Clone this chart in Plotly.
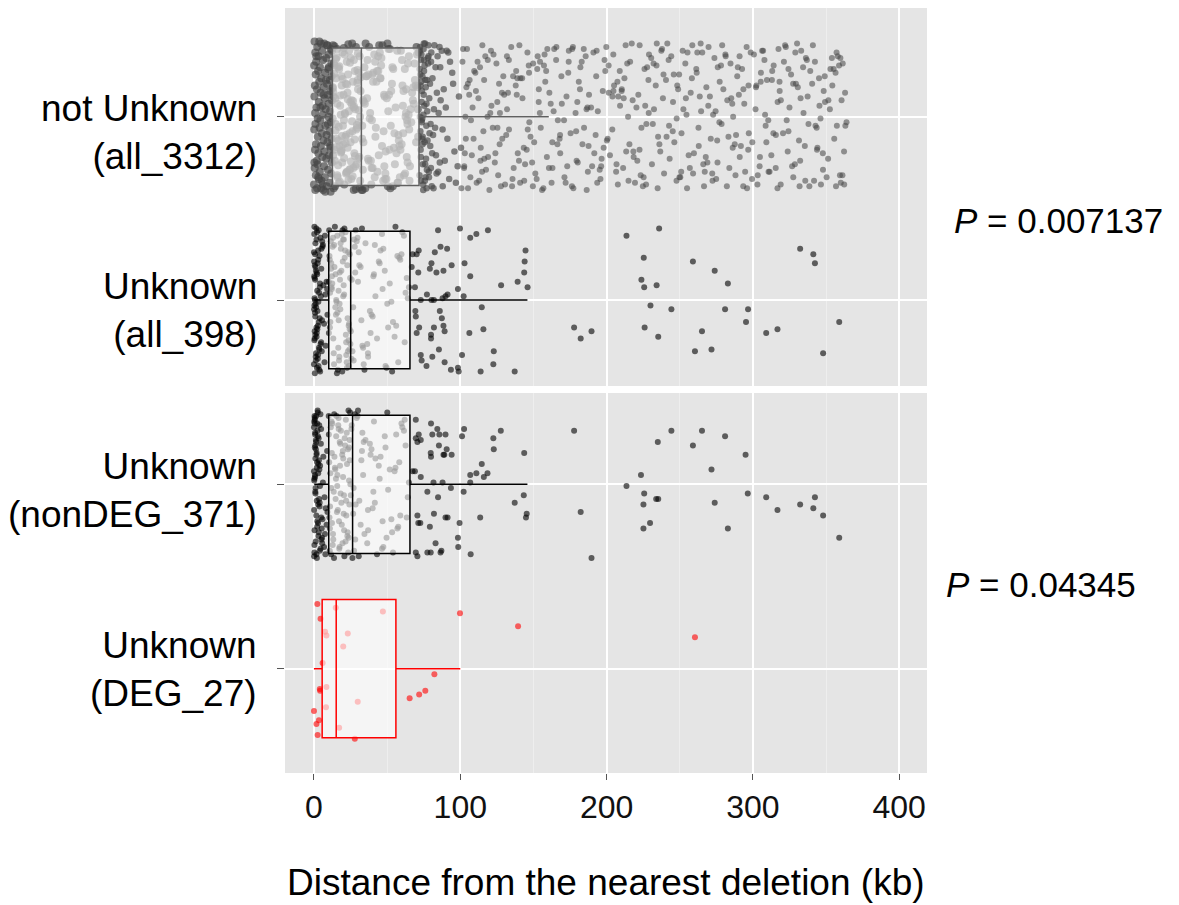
import plotly.graph_objects as go

# ---------------- data ----------------
x_tick_vals = [0, 100, 200, 300, 400]
x_minor_vals = [50, 150, 250, 350]

top_labels = ["not Unknown<br>(all_3312)", "Unknown<br>(all_398)"]
bottom_labels = ["Unknown<br>(nonDEG_371)", "Unknown<br>(DEG_27)"]
p_values = ["0.007137", "0.04345"]

# box statistics (kb): not Unknown, all_398, nonDEG_371, DEG_27
box_lower = [0.0, 0.2, 0.2, 0.0]
box_q1 = [12.6, 10.1, 10.1, 5.6]
box_median = [32.4, 25.1, 26.4, 15.2]
box_q3 = [71.8, 65.6, 65.6, 56.0]
box_upper = [160.5, 145.9, 145.9, 100.0]

# ---- not Unknown (all_3312): distances (kb) and vertical jitter ----
top_near_x = [0.4, 4.8, 9.1, 2.2, 7.0, 11.5, 0.9, 5.6, 10.2, 3.1,
              8.3, 1.5, 6.2, 11.9, 0.1, 4.1, 9.7, 2.8, 7.6, 12.1,
              1.2, 5.0, 10.8, 3.6, 8.8, 0.6, 6.7, 11.2, 2.0, 4.5,
              9.4, 0.3, 7.3, 12.3, 3.3, 5.9, 10.0, 1.7, 8.0, 11.0,
              0.8, 6.0, 2.5, 9.9, 4.3, 11.6, 1.0, 7.8, 3.9, 10.5,
              0.2, 5.3, 8.6, 2.6, 12.0, 6.5, 1.4, 9.2, 4.7, 11.3,
              0.7, 7.1, 3.0, 10.3, 5.7, 1.9, 8.4, 12.2, 2.4, 6.9,
              0.5, 9.6, 4.0, 11.8, 1.3, 7.4, 3.4, 10.9, 5.2, 0.0,
              8.7, 2.1, 6.3, 11.4, 0.9, 4.9, 9.0, 3.7, 7.7, 12.4,
              1.6, 5.8, 10.1, 2.9, 8.2, 0.3, 6.6, 11.1, 4.4, 9.5]
top_near_y = [0.41, 0.40, 0.39, 0.38, 0.40, 0.37, 0.35, 0.36, 0.34, 0.33,
              0.32, 0.30, 0.31, 0.29, 0.28, 0.27, 0.26, 0.25, 0.24, 0.22,
              0.23, 0.21, 0.20, 0.19, 0.18, 0.17, 0.16, 0.14, 0.15, 0.13,
              0.12, 0.11, 0.10, 0.09, 0.08, 0.06, 0.07, 0.05, 0.04, 0.03,
              0.02, 0.01, -0.01, 0.00, -0.02, -0.03, -0.04, -0.05, -0.06, -0.08,
              -0.07, -0.09, -0.10, -0.11, -0.12, -0.13, -0.15, -0.14, -0.16, -0.17,
              -0.18, -0.19, -0.20, -0.21, -0.22, -0.24, -0.23, -0.25, -0.26, -0.27,
              -0.28, -0.29, -0.30, -0.31, -0.32, -0.33, -0.34, -0.36, -0.35, -0.37,
              -0.38, -0.39, -0.40, -0.41, -0.40, -0.39, 0.39, 0.41, -0.41, 0.36,
              0.33, -0.37, 0.27, -0.33, 0.20, -0.25, 0.12, -0.16, 0.05, -0.04]

top_box1_x = [13.0, 19.5, 26.1, 31.2, 15.8, 22.4, 28.7, 14.1, 20.9, 27.3,
              17.2, 24.0, 30.5, 13.6, 18.8, 25.2, 29.9, 16.4, 21.7, 27.9,
              12.9, 23.3, 31.8, 15.1, 20.2, 26.6, 14.6, 19.0, 24.8, 30.1,
              17.9, 22.9, 28.2, 13.3, 21.1, 25.7, 31.5, 16.0, 20.5, 27.0,
              14.9, 23.8, 29.4, 18.3, 26.3, 12.8, 22.0, 30.8, 15.5, 19.8,
              25.0, 28.9, 17.5, 24.4, 13.9, 21.4, 27.6, 16.7, 31.0, 20.0,
              14.3, 23.0, 29.1, 18.6, 26.9, 13.1, 22.6, 30.3, 15.9, 19.3,
              25.5, 28.4, 17.0, 24.2, 14.4, 21.9, 27.2, 16.2, 31.6, 20.7,
              13.5, 23.5, 29.7, 18.0, 26.0, 15.3, 22.2, 30.0, 19.6, 25.9,
              14.8, 28.0, 17.7, 24.6, 12.7, 21.2, 27.8, 16.5, 31.3, 20.4,
              13.8, 23.1, 29.3, 18.9, 26.4, 15.0, 22.7, 30.6, 19.1, 25.3,
              14.0, 28.6, 17.3, 24.9, 13.2, 21.6, 27.4, 16.9, 31.9, 20.6,
              15.6, 23.6, 29.6, 18.4, 26.7]
top_box1_y = [0.39, 0.35, 0.40, 0.33, 0.37, 0.30, 0.38, 0.28, 0.34, 0.31,
              0.26, 0.36, 0.24, 0.29, 0.22, 0.32, 0.20, 0.27, 0.18, 0.25,
              0.16, 0.23, 0.14, 0.21, 0.12, 0.19, 0.10, 0.17, 0.08, 0.15,
              0.06, 0.13, 0.04, 0.11, 0.02, 0.09, 0.00, 0.07, -0.02, 0.05,
              -0.04, 0.03, -0.06, 0.01, -0.08, -0.01, -0.10, -0.03, -0.12, -0.05,
              -0.14, -0.07, -0.16, -0.09, -0.18, -0.11, -0.20, -0.13, -0.22, -0.15,
              -0.24, -0.17, -0.26, -0.19, -0.28, -0.21, -0.30, -0.23, -0.32, -0.25,
              -0.34, -0.27, -0.36, -0.29, -0.38, -0.31, -0.40, -0.33, -0.35, -0.37,
              -0.39, 0.395, 0.255, 0.115, -0.025, -0.165, -0.305, 0.345, 0.205, 0.065,
              -0.075, -0.215, -0.355, 0.295, 0.155, 0.015, -0.125, -0.265, -0.385, 0.375,
              0.235, 0.095, -0.045, -0.185, -0.325, 0.315, 0.175, 0.035, -0.105, -0.245,
              0.385, -0.395, 0.275, -0.285, 0.135, -0.145, 0.055, -0.055, 0.215, -0.225,
              0.325, -0.345, 0.185, -0.195, 0.085]

top_box2_x = [33.0, 45.2, 58.7, 70.1, 38.4, 51.6, 64.3, 35.1, 47.9, 61.0,
              41.2, 55.3, 68.2, 33.8, 44.0, 57.1, 69.5, 39.6, 50.2, 63.4,
              36.3, 48.8, 60.2, 71.2, 42.7, 53.9, 66.0, 34.5, 46.5, 59.4,
              40.1, 52.8, 65.1, 37.2, 49.5, 62.6, 43.9, 56.4, 67.6, 32.6,
              45.9, 58.0, 70.7, 38.9, 51.0, 63.9, 35.6, 47.3, 60.8, 41.8,
              54.6, 67.1, 33.4, 44.6, 57.7, 69.0, 39.2, 50.8, 62.1, 36.9,
              48.3, 61.5, 71.6, 42.3, 53.3, 65.6, 34.1, 46.1, 59.9, 40.6,
              52.2, 64.7, 37.7, 49.0, 63.0, 43.4, 55.8, 68.7, 32.9, 45.5,
              57.4, 70.4, 38.1, 51.3, 64.0, 35.3, 47.6, 60.5, 41.5, 54.2,
              66.5, 33.6, 44.3, 56.9, 69.8, 39.9, 50.5, 62.9, 36.6, 48.1,
              61.2, 42.0, 53.6, 65.3, 34.8, 46.8, 59.1, 40.4, 52.5, 64.9,
              37.4, 49.8, 62.3, 43.1, 55.0, 67.9, 33.2, 45.0, 58.4, 71.0,
              39.4, 51.9, 63.6, 36.0, 48.6]
top_box2_y = [-0.05, 0.21, -0.33, 0.38, 0.02, -0.18, 0.29, -0.39, 0.12, -0.09,
              0.34, -0.26, 0.07, -0.14, 0.25, -0.36, 0.17, -0.02, 0.40, -0.22,
              0.10, -0.31, 0.31, -0.11, 0.19, -0.38, 0.04, 0.27, -0.16, 0.36,
              -0.28, 0.14, -0.07, 0.23, -0.34, 0.00, 0.33, -0.20, 0.09, -0.40,
              0.28, -0.13, 0.16, -0.24, 0.37, -0.04, 0.22, -0.35, 0.06, 0.30,
              -0.17, 0.13, -0.29, 0.39, -0.10, 0.20, -0.37, 0.03, 0.26, -0.23,
              0.11, -0.32, 0.35, -0.06, 0.18, -0.27, 0.08, 0.32, -0.15, 0.24,
              -0.39, 0.01, 0.38, -0.19, 0.15, -0.30, 0.05, 0.29, -0.12, 0.21,
              -0.36, 0.34, -0.01, 0.12, -0.25, 0.40, -0.08, 0.17, -0.33, 0.26,
              -0.03, 0.09, -0.21, 0.36, -0.14, 0.23, -0.38, 0.02, 0.31, -0.27,
              0.14, -0.11, 0.27, -0.35, 0.07, 0.39, -0.18, 0.19, -0.05, 0.33,
              -0.24, 0.10, -0.31, 0.25, -0.09, 0.16, -0.40, 0.35, -0.16, 0.04,
              -0.28, 0.37, -0.02, 0.22, -0.34]

top_mid_x = [72.5, 74.1, 76.8, 73.2, 78.5, 75.0, 80.2, 72.9, 77.4, 83.1,
             74.6, 79.3, 73.6, 86.0, 75.9, 81.4, 72.2, 88.7, 76.3, 74.0,
             84.5, 78.0, 73.0, 91.2, 75.4, 82.3, 77.0, 94.5, 73.8, 79.9,
             72.7, 87.3, 76.1, 80.8, 74.4, 97.0, 78.8, 73.4, 85.2, 75.7,
             83.8, 72.4, 77.8, 90.1, 74.9, 81.0, 99.1, 76.6, 73.1, 88.0,
             79.5, 75.2, 93.0, 72.8, 82.8, 77.2, 74.3, 86.6, 78.2, 96.0,
             73.7, 80.5, 75.6, 84.0, 72.1, 91.8, 76.9, 74.7, 89.4, 79.0,
             73.3, 82.0, 98.2, 75.1, 77.6, 85.8, 72.6, 80.0, 95.1, 74.2,
             76.4, 83.4, 73.5, 92.4, 78.3, 75.8, 87.9, 72.3, 81.7, 76.0,
             74.8, 100.5, 79.7, 73.9, 86.3, 77.3, 90.7, 75.3, 84.9, 78.6]
top_mid_y = [0.38, 0.22, -0.05, 0.31, -0.30, 0.12, 0.35, -0.18, 0.03, 0.27,
             -0.37, 0.18, 0.08, -0.25, 0.40, -0.10, 0.26, 0.15, -0.33, -0.01,
             0.33, 0.29, -0.22, -0.12, 0.06, 0.39, -0.39, 0.24, 0.14, -0.28,
             -0.08, 0.36, 0.20, -0.20, -0.26, -0.36, 0.10, 0.34, 0.02, -0.14,
             -0.31, 0.00, 0.32, 0.05, 0.37, 0.21, 0.11, -0.23, -0.35, -0.38,
             -0.16, 0.25, 0.30, 0.17, -0.06, -0.29, -0.11, 0.09, 0.39, -0.19,
             -0.03, -0.38, 0.28, 0.13, -0.32, 0.35, 0.07, -0.40, -0.24, -0.09,
             0.19, 0.04, -0.27, 0.40, -0.13, 0.38, 0.23, 0.30, 0.18, -0.15,
             0.16, -0.21, -0.02, -0.34, 0.33, -0.35, -0.07, 0.36, -0.39, -0.26,
             0.01, -0.17, -0.04, -0.12, 0.27, 0.20, 0.36, 0.31, -0.30, -0.33]

top_far1_x = [101.5, 103.8, 105.2, 106.9, 108.4, 102.7, 104.6, 107.3, 109.5, 100.8, 106.1, 103.1,
              111.2, 113.5, 115.8, 117.1, 119.0, 112.4, 114.9, 116.3, 118.6, 110.7, 114.0,
              121.0, 123.6, 125.3, 127.8, 129.4, 122.2, 124.7, 126.9, 128.5, 120.5, 125.9,
              131.4, 133.2, 135.7, 137.9, 139.3, 132.0, 134.8, 136.5, 138.2, 130.6,
              141.1, 143.4, 145.9, 147.2, 149.6, 142.5, 144.3, 146.8, 148.0, 140.4,
              151.3, 153.7, 155.0, 157.6, 159.2, 152.6, 154.4, 156.8, 158.1, 150.5,
              161.8, 163.0, 165.5, 167.9, 169.1, 162.4, 164.2, 166.7, 168.3, 160.9,
              171.2, 173.8, 175.4, 177.0, 179.5, 172.6, 174.1, 176.3, 178.8,
              181.0, 183.5, 185.7, 187.2, 189.4, 182.1, 184.6, 186.4, 188.0, 180.3,
              191.6, 193.2, 195.8, 197.4, 199.1, 192.5, 194.0, 196.3, 198.6,
              201.4, 203.9, 205.1, 207.7, 209.2, 202.3, 204.6, 206.5, 208.0, 200.7,
              211.3, 213.0, 215.6, 217.8, 219.4, 212.2, 214.7, 216.1, 218.5, 210.4,
              221.7, 223.3, 225.9, 227.2, 229.0, 222.5, 224.8, 226.4, 228.6,
              231.0, 233.6, 235.2, 237.9, 239.3, 232.4, 234.1, 236.7, 238.5, 230.5,
              241.5, 243.1, 245.4, 247.8, 249.6, 242.7, 244.2, 246.3, 248.9,
              251.2, 253.8, 255.0, 257.5, 259.7, 252.0, 254.6, 256.9, 258.3, 250.4,
              261.6, 263.0, 265.4, 267.1, 269.5, 262.8, 264.3, 266.6, 268.2,
              271.2, 273.7, 275.8, 277.3, 279.0, 272.4, 274.5, 276.0, 278.6, 270.6,
              281.4, 283.9, 285.2, 287.6, 289.3, 282.2, 284.7, 286.5, 288.1,
              291.0, 293.5, 295.7, 297.2, 299.4, 292.6, 294.1, 296.8, 298.5, 290.4,
              301.8, 303.1, 305.5, 307.9, 309.2, 302.4, 304.6, 306.3, 308.7,
              311.4, 313.0, 315.7, 317.5, 319.1, 312.6, 314.2, 316.8, 318.3, 310.5,
              321.2, 323.8, 325.0, 327.6, 329.4, 322.5, 324.3, 326.1, 328.7,
              331.5, 333.0, 335.8, 337.4, 339.2, 332.3, 334.6, 336.2, 338.6, 330.7,
              341.0, 343.6, 345.2, 347.9, 349.3, 342.4, 344.1, 346.5, 348.4,
              351.4, 353.0, 355.6, 357.2, 359.5, 352.6, 354.3, 356.8, 358.0,
              360.6, 362.3, 361.4, 363.2, 360.1]
top_far1_y = [0.30, -0.12, 0.18, -0.33, 0.05, -0.27, 0.37, -0.02, 0.25, -0.39, 0.12, -0.20,
              -0.36, 0.27, -0.08, 0.33, -0.22, 0.10, -0.30, 0.20, 0.00, 0.14, -0.17,
              0.36, -0.25, 0.08, -0.38, 0.22, -0.06, 0.29, -0.15, 0.13, 0.02, -0.32,
              -0.10, 0.31, -0.34, 0.17, -0.20, 0.04, 0.38, -0.28, 0.25, -0.37,
              0.21, -0.17, 0.35, -0.03, -0.38, 0.10, -0.26, 0.28, -0.11, 0.39,
              -0.31, 0.15, -0.06, 0.34, -0.22, 0.26, 0.02, -0.39, 0.19, -0.14,
              0.07, -0.28, 0.31, -0.12, 0.22, -0.36, 0.37, -0.02, -0.20, 0.13,
              -0.33, 0.24, -0.09, 0.38, -0.24, 0.11, 0.30, -0.38, 0.02,
              0.19, -0.15, 0.33, -0.30, 0.05, 0.27, -0.06, -0.40, 0.12, -0.25,
              -0.20, 0.36, -0.34, 0.14, 0.25, -0.10, 0.03, -0.27, 0.31,
              0.28, -0.07, 0.17, -0.37, 0.06, -0.21, 0.34, -0.30, 0.11, -0.12,
              -0.28, 0.39, -0.15, 0.09, -0.36, 0.21, 0.00, 0.30, -0.22, 0.15,
              0.12, -0.32, 0.26, -0.04, 0.34, -0.18, -0.38, 0.06, 0.20,
              -0.26, 0.17, -0.11, 0.37, -0.31, 0.04, 0.28, -0.19, 0.10, 0.32,
              0.40, -0.23, 0.08, -0.35, 0.23, -0.05, 0.33, -0.14, 0.15,
              -0.09, 0.29, -0.39, 0.13, -0.20, 0.36, 0.01, -0.28, 0.21, -0.33,
              0.24, -0.16, 0.35, -0.30, 0.06, -0.06, 0.40, -0.38, 0.16,
              -0.12, 0.32, -0.25, 0.19, 0.39, -0.35, 0.03, 0.27, -0.04, 0.11,
              0.33, -0.28, 0.10, -0.15, 0.22, -0.38, 0.29, 0.00, -0.32,
              -0.22, 0.15, 0.38, -0.09, -0.34, 0.26, 0.07, -0.18, 0.35, 0.12,
              0.04, -0.37, 0.24, 0.31, -0.14, 0.17, -0.27, 0.36, -0.05,
              -0.30, 0.20, -0.10, 0.37, 0.09, -0.21, 0.28, -0.39, 0.14, -0.02,
              0.30, -0.19, 0.05, -0.33, 0.18, 0.38, -0.08, 0.23, -0.26,
              -0.13, 0.36, -0.35, 0.11, 0.25, -0.24, 0.02, 0.32, -0.38, 0.16,
              0.39, -0.06, 0.21, -0.29, 0.08, 0.30, -0.17, -0.37, 0.14,
              -0.23, 0.26, -0.12, 0.35, -0.32, 0.04, 0.17, -0.38, 0.33,
              0.09, -0.19, 0.29, -0.05, -0.36]

top_far2_x = [104.2, 117.6, 131.9, 146.1, 158.7, 172.0, 186.3, 199.8, 213.4, 227.7,
              241.0, 255.3, 268.9, 282.5, 296.0, 309.6, 323.1, 336.9, 350.4, 363.0,
              107.9, 121.3, 135.4, 149.8, 162.9, 176.5, 190.1, 204.0, 217.2, 231.6,
              245.9, 259.1, 272.8, 286.2, 300.7, 314.0, 327.5, 341.8, 355.2, 102.6,
              115.1, 128.7, 142.3, 155.9, 169.4, 183.0, 196.6, 210.3, 223.8, 237.4,
              251.0, 264.6, 278.2, 291.8, 305.4, 319.0, 332.6, 346.2, 359.8, 110.3,
              124.0, 138.6, 152.2, 165.7, 179.2, 192.9, 206.8, 220.4, 234.9, 248.3,
              262.0, 275.6, 289.7, 303.3, 316.9, 330.2, 343.8, 357.4, 101.9, 113.8,
              127.1, 140.9, 154.5, 168.2, 181.8, 195.3, 209.0, 222.6, 236.1, 249.8,
              263.7, 277.1, 290.9, 304.8, 318.2, 331.9, 345.5, 358.9, 106.4, 119.9,
              133.3, 147.0, 160.6, 174.2, 187.7, 201.5, 215.0, 228.8, 242.4, 256.1,
              269.7, 283.3, 297.0, 310.7, 324.3, 338.0, 351.6, 362.4, 109.1, 122.7,
              136.1, 149.1, 163.8, 177.3, 191.0, 204.7, 218.3, 232.1, 245.2, 258.6,
              272.2, 285.9, 299.6, 313.2, 326.8, 340.5, 354.0, 103.5, 116.4, 130.0,
              143.7, 157.2, 170.9, 184.4, 198.0, 211.7, 225.3, 238.9, 252.5, 266.1,
              279.8, 293.4, 307.0, 320.6, 334.3, 347.8, 361.2, 111.8, 125.4, 139.0,
              152.9, 166.4, 180.0, 193.6, 207.4, 221.0, 234.3, 247.9, 261.3, 274.9,
              288.5, 302.1, 315.6, 329.0, 342.8, 356.5, 105.3, 118.8, 132.6, 145.4,
              159.5, 173.1, 186.9, 200.2, 214.1, 227.0, 240.6, 254.2, 267.8, 281.2,
              294.7, 308.3, 322.0, 335.5, 349.1, 364.0, 112.9, 126.5, 140.1, 153.6]
top_far2_y = [0.16, -0.29, 0.33, -0.07, 0.25, -0.36, 0.04, 0.38, -0.19, 0.27,
              -0.11, 0.35, -0.25, 0.09, -0.39, 0.20, -0.02, 0.31, -0.33, 0.13,
              -0.21, 0.06, -0.38, 0.29, -0.14, 0.37, -0.27, 0.11, 0.40, -0.04,
              0.23, -0.31, 0.01, -0.17, 0.34, -0.09, 0.18, -0.35, 0.26, -0.28,
              0.39, -0.12, 0.21, -0.40, 0.07, 0.30, -0.23, 0.14, -0.06, 0.36,
              -0.30, 0.03, 0.28, -0.16, 0.19, -0.37, 0.10, -0.01, 0.32, 0.24,
              -0.20, 0.12, -0.34, 0.38, -0.08, 0.22, -0.26, 0.05, -0.39, 0.17,
              0.35, -0.13, 0.27, -0.32, 0.08, 0.40, -0.18, -0.05, 0.37, -0.24,
              0.02, -0.36, 0.30, -0.10, 0.15, -0.29, 0.25, 0.39, -0.15, -0.33,
              0.11, -0.03, 0.33, -0.22, 0.19, -0.38, 0.06, 0.28, 0.20, -0.40,
              -0.07, 0.24, -0.28, 0.36, -0.16, 0.13, -0.35, 0.02, 0.31, -0.21,
              0.38, -0.11, 0.17, -0.30, 0.26, -0.04, 0.09, -0.37, -0.12, 0.34,
              0.22, -0.25, 0.03, -0.39, 0.35, 0.14, -0.19, 0.29, -0.08, 0.39,
              -0.31, 0.07, -0.14, 0.25, -0.27, 0.18, 0.32, 0.00, -0.23, 0.12,
              -0.35, 0.28, -0.02, 0.37, -0.17, 0.10, -0.33, 0.23, 0.04, -0.26,
              0.15, -0.38, 0.36, -0.09, 0.27, -0.20, -0.32, 0.30, -0.06, 0.21,
              0.33, -0.15, 0.08, -0.36, 0.19, -0.24, 0.40, -0.01, 0.26, -0.34,
              -0.10, 0.16, -0.28, 0.35, -0.05, 0.24, -0.39, 0.31, 0.13, -0.18,
              0.37, -0.27, 0.05, -0.13, 0.29, -0.37, 0.20, 0.10, -0.22, 0.34,
              -0.30, 0.01, 0.39, -0.16, 0.22, -0.03, -0.35, 0.18, -0.24, 0.08]

# ---- Unknown groups: dense part shared distances, separate jitter ----
unk_near_x = [0.3, 2.1, 4.4, 1.0, 3.2, 5.8, 0.0, 1.7, 2.9, 7.5,
              0.6, 3.8, 1.3, 5.1, 0.2, 2.5, 8.6, 1.9, 4.0, 0.8,
              3.5, 6.4, 0.4, 2.2, 1.1, 4.7, 0.1, 3.0, 9.2, 1.5,
              5.5, 0.7, 2.7, 3.9, 0.5, 6.9, 1.8, 2.3, 4.9, 0.9,
              3.4, 0.3, 1.4, 8.0, 2.6, 5.3, 0.0, 1.2, 3.6, 7.2,
              0.6, 2.0, 4.2, 1.6, 0.2, 3.1, 6.1, 0.8, 2.8, 1.0,
              4.5, 0.4, 1.9, 9.0, 3.3, 0.7, 2.4, 5.6, 1.3, 0.1,
              3.7, 2.2, 0.5, 4.1, 1.7, 7.8, 0.9, 2.9, 0.3, 5.0]
all398_near_y = [0.40, 0.37, 0.34, 0.31, 0.38, 0.29, 0.26, 0.33, 0.22, 0.35,
                 0.19, 0.24, 0.16, 0.28, 0.13, 0.20, 0.10, 0.15, 0.07, 0.11,
                 0.04, 0.08, 0.01, 0.05, -0.02, 0.02, -0.05, -0.01, -0.08, -0.04,
                 -0.11, -0.07, -0.14, -0.10, -0.17, -0.13, -0.20, -0.16, -0.23, -0.19,
                 -0.26, -0.22, -0.29, -0.25, -0.32, -0.28, -0.35, -0.31, -0.38, -0.34,
                 -0.40, -0.37, -0.39, 0.39, 0.36, -0.36, 0.30, 0.25, -0.30, 0.18,
                 -0.24, 0.12, -0.18, 0.06, -0.12, 0.00, -0.06, 0.32, -0.33, 0.21,
                 -0.27, 0.14, -0.21, 0.09, -0.15, 0.03, -0.09, 0.27, -0.03, 0.17]
nondeg_near_y = [-0.33, 0.12, 0.38, -0.05, 0.25, -0.19, 0.31, -0.38, 0.06, -0.27,
                 0.35, -0.12, 0.19, -0.30, 0.02, 0.40, -0.22, 0.09, -0.36, 0.28,
                 -0.08, 0.15, -0.25, 0.33, -0.02, 0.22, -0.39, 0.11, -0.15, 0.37,
                 -0.29, 0.04, 0.26, -0.10, 0.36, -0.34, 0.17, -0.20, 0.30, -0.04,
                 0.13, -0.37, 0.23, -0.13, 0.39, -0.24, 0.07, -0.31, 0.32, -0.07,
                 0.20, -0.40, 0.10, -0.17, 0.34, -0.28, 0.01, 0.27, -0.21, 0.14,
                 -0.35, 0.37, -0.09, 0.18, -0.26, 0.05, 0.29, -0.32, 0.24, -0.14,
                 0.08, -0.23, 0.33, -0.01, 0.16, -0.38, 0.21, -0.11, 0.03, -0.18]

unk_box_x = [10.4, 13.2, 16.8, 20.5, 23.9, 11.7, 15.0, 18.4, 22.1, 24.7,
             10.9, 14.3, 17.5, 21.0, 24.2, 12.5, 15.9, 19.3, 22.8, 11.2,
             13.8, 17.1, 20.0, 23.4, 10.2, 14.8, 18.0, 21.6, 24.9, 12.0,
             16.3, 19.7, 23.0, 11.5, 13.5, 17.8, 20.8, 24.4, 10.6, 15.4,
             18.7, 22.4, 12.8, 16.0, 19.0, 23.6, 11.0, 14.0, 17.3, 21.3,
             24.0, 13.0, 16.6, 20.3, 22.6, 10.8, 15.2, 18.2, 21.8, 12.3,
             14.6, 19.5, 23.2, 11.8, 16.9, 20.6, 24.5, 13.7, 17.6, 22.0,
             10.1, 15.7, 19.9, 23.7, 12.2,
             25.6, 31.0, 38.2, 46.5, 55.1, 63.4, 27.9, 34.5, 42.0, 50.7,
             59.8, 26.3, 32.8, 40.1, 48.4, 57.6, 64.9, 29.2, 36.4, 44.3,
             52.9, 61.5, 25.2, 30.1, 37.0, 45.5, 54.0, 62.6, 28.5, 33.6,
             41.0, 49.6, 58.3, 26.8, 35.2, 43.1, 51.8, 60.4, 27.1, 31.9,
             39.3, 47.4, 56.2, 64.1, 29.8, 36.9, 44.9, 53.4, 25.8, 30.6,
             38.7, 46.9, 55.7, 62.0, 28.2, 34.0, 41.6, 50.1, 59.0, 32.4,
             27.4, 33.1, 40.6, 48.9, 57.0, 63.8, 26.0, 35.7, 43.7, 52.3,
             61.1, 29.5, 37.6, 45.9, 54.6]
all398_box_y = [0.38, -0.21, 0.05, 0.33, -0.36, 0.17, -0.08, 0.28, -0.30, 0.12,
                -0.15, 0.40, -0.02, 0.23, -0.27, 0.09, 0.35, -0.39, 0.19, -0.12,
                0.30, -0.33, 0.02, 0.26, -0.18, 0.14, -0.05, 0.37, -0.24, 0.07,
                -0.38, 0.21, -0.10, 0.32, -0.29, 0.11, 0.39, -0.16, 0.24, -0.01,
                0.16, -0.34, 0.29, -0.07, 0.36, -0.22, 0.04, 0.18, -0.31, 0.27,
                -0.13, 0.34, -0.26, 0.08, -0.37, 0.22, 0.00, 0.31, -0.19, 0.13,
                -0.04, 0.38, -0.28, 0.20, -0.11, 0.03, 0.25, -0.35, 0.15, -0.23,
                0.10, -0.40, 0.33, -0.14, 0.06,
                -0.32, 0.19, -0.06, 0.36, -0.20, 0.12, 0.29, -0.38, 0.02, -0.15,
                0.25, -0.28, 0.39, -0.09, 0.16, -0.34, 0.07, 0.32, -0.24, 0.21,
                -0.01, 0.35, -0.17, 0.10, -0.31, 0.27, -0.12, 0.04, 0.38, -0.26,
                0.14, -0.37, 0.23, -0.04, 0.31, -0.21, 0.09, 0.37, -0.33, 0.18,
                -0.08, 0.28, -0.14, 0.01, 0.34, -0.29, 0.20, -0.39, 0.11, 0.26,
                -0.18, 0.06, 0.40, -0.23, 0.15, -0.35, 0.30, -0.02, 0.22, -0.11,
                0.33, -0.25, 0.13, -0.36, 0.24]
nondeg_box_y = [0.12, -0.30, 0.36, -0.06, 0.20, -0.38, 0.03, 0.29, -0.17, 0.39,
                -0.24, 0.09, -0.34, 0.25, -0.11, 0.33, -0.01, 0.16, -0.28, 0.06,
                0.38, -0.20, 0.14, -0.37, 0.27, -0.08, 0.22, -0.31, 0.00, 0.34,
                -0.14, 0.18, -0.26, 0.31, -0.04, 0.10, -0.39, 0.24, -0.18, 0.37,
                -0.10, 0.28, -0.33, 0.05, -0.22, 0.40, -0.12, 0.15, -0.35, 0.21,
                0.02, -0.27, 0.32, -0.16, 0.11, -0.36, 0.26, -0.05, 0.35, -0.21,
                0.08, -0.32, 0.19, -0.02, 0.30, -0.25, 0.13, -0.40, 0.23, -0.09,
                0.37, -0.15, 0.04, -0.29, 0.17,
                0.30, -0.09, 0.22, -0.35, 0.07, -0.18, 0.38, -0.27, 0.14, -0.03,
                0.33, -0.40, 0.18, -0.13, 0.26, -0.23, 0.01, 0.36, -0.32, 0.10,
                -0.19, 0.29, -0.06, 0.40, -0.25, 0.15, -0.37, 0.21, -0.11, 0.05,
                0.34, -0.29, 0.12, -0.16, 0.24, -0.38, 0.08, 0.31, -0.02, -0.22,
                0.19, -0.34, 0.27, -0.07, 0.37, -0.14, 0.03, -0.26, 0.32, -0.39,
                0.16, -0.20, 0.09, 0.35, -0.30, 0.23, -0.10, 0.39, -0.17, 0.13,
                -0.36, 0.28, -0.04, 0.20, -0.24]

all398_out_x = [84.8, 99.8, 106.8, 111.0, 118.9, 82.6, 86.5, 91.0, 102.9, 80.3,
                79.2, 83.7, 88.5, 94.1, 106.8, 98.4, 102.3, 71.3, 67.4, 70.2,
                71.6, 66.8, 69.0, 73.0, 77.2, 80.3, 82.0, 87.9, 89.9, 91.3,
                114.7, 69.3, 69.6, 86.0, 87.4, 88.5, 71.9, 82.0, 89.3, 70.2,
                80.0, 80.0, 106.2, 115.8, 101.2, 85.4, 73.0, 80.9, 73.6, 89.3,
                76.9, 93.6, 98.4, 98.9, 113.9, 122.9, 122.6, 137.2, 127.9, 139.2,
                143.7, 144.0, 144.6, 146.0, 177.8, 182.3, 189.7, 213.6, 235.9, 225.4,
                223.8, 225.7, 234.2, 230.0, 244.3, 226.0, 235.3, 259.0, 273.9, 282.9,
                281.0, 296.7, 295.3, 265.2, 260.4, 271.7, 309.1, 316.8, 332.3, 341.3,
                342.4, 359.0, 348.0]
all398_out_y = [0.38, 0.39, 0.34, 0.36, 0.38, 0.26, 0.29, 0.28, 0.20, 0.20,
                0.17, 0.15, 0.16, 0.19, 0.13, 0.06, 0.02, 0.15, 0.25, 0.25,
                0.27, 0.18, 0.07, 0.00, 0.03, 0.00, 0.00, 0.01, 0.02, 0.03,
                -0.04, -0.06, -0.09, -0.06, -0.10, -0.14, -0.15, -0.15, -0.17, -0.18,
                -0.19, -0.21, -0.18, -0.16, -0.30, -0.27, -0.30, -0.31, -0.33, -0.34,
                -0.36, -0.38, -0.37, -0.39, -0.39, -0.28, -0.35, -0.39, 0.08, 0.10,
                0.15, 0.21, 0.27, 0.07, -0.15, -0.21, -0.17, 0.35, 0.39, 0.23,
                0.11, 0.07, 0.08, -0.03, -0.05, -0.15, -0.20, 0.21, 0.16, 0.09,
                -0.05, -0.05, -0.12, -0.17, -0.28, -0.27, -0.18, -0.16, 0.28, 0.25,
                0.20, -0.12, -0.29]

nondeg_out_x = [69.6, 80.0, 84.3, 80.9, 85.7, 89.9, 71.6, 69.6, 73.0, 70.7,
                85.4, 79.8, 80.0, 88.5, 90.7, 94.1, 89.1, 101.2, 102.6, 122.6,
                127.7, 122.9, 143.7, 114.7, 106.8, 111.0, 116.1, 118.6, 106.8, 81.7,
                87.9, 93.6, 73.0, 69.0, 67.4, 77.5, 84.8, 102.3, 143.4, 137.2,
                145.4, 144.9, 113.6, 99.5, 98.4, 98.6, 107.1, 89.9, 91.3, 82.0,
                79.2, 83.1, 87.1, 86.5, 77.5, 79.8, 69.6, 70.7, 70.7, 71.3,
                72.7, 177.8, 182.3, 189.7, 213.6, 223.5, 225.7, 225.2, 229.7, 225.2,
                233.9, 235.3, 235.0, 244.3, 259.0, 265.2, 281.0, 271.7, 273.9, 282.9,
                295.0, 296.5, 309.1, 316.8, 332.3, 341.3, 342.4, 348.0, 359.0]
nondeg_out_y = [0.35, 0.33, 0.30, 0.27, 0.27, 0.27, 0.27, 0.25, 0.24, 0.23,
                0.21, 0.17, 0.15, 0.16, 0.19, 0.16, 0.16, 0.26, 0.30, 0.25,
                0.29, 0.19, 0.17, 0.11, 0.05, 0.06, 0.04, 0.06, 0.01, 0.01,
                0.01, -0.02, 0.04, 0.07, 0.07, -0.04, -0.07, -0.04, -0.06, -0.10,
                -0.16, -0.18, -0.18, -0.21, -0.29, -0.34, -0.38, -0.18, -0.18, -0.16,
                -0.23, -0.32, -0.36, -0.37, -0.37, -0.37, -0.37, -0.39, -0.17, -0.21,
                -0.21, 0.29, -0.15, -0.40, -0.01, 0.05, -0.05, -0.11, -0.21, -0.24,
                -0.08, -0.08, 0.23, 0.29, 0.21, 0.29, 0.26, 0.08, -0.10, -0.24,
                0.16, -0.05, -0.07, -0.14, -0.11, -0.13, -0.07, -0.17, -0.29]

deg_x = [2.3, 4.5, 14.9, 47.1, 7.6, 8.5, 23.1, 20.0, 5.9, 99.8,
         139.5, 260.4, 82.3, 76.1, 71.9, 65.4, 4.0, 8.5, 29.9, 8.2,
         0.0, 3.4, 1.7, 2.5, 17.2, 27.9, 4.2]
deg_y = [0.35, 0.27, 0.33, 0.31, 0.20, 0.18, 0.19, 0.12, 0.03, 0.30,
         0.23, 0.17, -0.03, -0.12, -0.14, -0.16, -0.11, -0.10, -0.18, -0.21,
         -0.23, -0.28, -0.30, -0.36, -0.32, -0.38, -0.12]

# ---------------- styling ----------------
FONT = "Arial, 'Liberation Sans', Helvetica, sans-serif"
PANEL_BG = "#E5E5E5"
X_RANGE = [-19.8, 419.0]
TOP_RANGE = [-0.469, 1.593]
BOT_RANGE = [-0.566, 1.495]
TOP_DOMAIN = [0.5059, 1.0]
BOT_DOMAIN = [0.0, 0.4967]

GRAY_DENSE = "rgba(70,70,70,0.66)"
GRAY_SPARSE = "rgba(70,70,70,0.55)"
BLACK_PT = "rgba(0,0,0,0.60)"
RED_PT = "rgba(255,0,0,0.60)"
BOX_FILL = "rgba(255,255,255,0.60)"

fig = go.Figure()


def add_points(xs, offs, pos, xa, ya, color, size):
    n = min(len(xs), len(offs))
    fig.add_trace(go.Scatter(
        x=xs[:n], y=[pos + o for o in offs[:n]], mode="markers",
        xaxis=xa, yaxis=ya, showlegend=False, hoverinfo="skip",
        marker=dict(color=color, size=size, line=dict(width=0))))


# points (drawn on base subplots)
add_points(top_near_x, top_near_y, 1, "x2", "y2", GRAY_DENSE, 8)
add_points(top_box1_x, top_box1_y, 1, "x2", "y2", GRAY_DENSE, 8)
add_points(top_box2_x, top_box2_y, 1, "x2", "y2", GRAY_DENSE, 8)
add_points(top_mid_x, top_mid_y, 1, "x2", "y2", GRAY_DENSE, 6.5)
add_points(top_far1_x, top_far1_y, 1, "x2", "y2", GRAY_SPARSE, 6)
add_points(top_far2_x, top_far2_y, 1, "x2", "y2", GRAY_SPARSE, 6)

add_points(unk_near_x, all398_near_y, 0, "x2", "y2", BLACK_PT, 6)
add_points(unk_box_x, all398_box_y, 0, "x2", "y2", BLACK_PT, 6)
add_points(all398_out_x, all398_out_y, 0, "x2", "y2", BLACK_PT, 6)

add_points(unk_near_x, nondeg_near_y, 1, "x", "y", BLACK_PT, 6)
add_points(unk_box_x, nondeg_box_y, 1, "x", "y", BLACK_PT, 6)
add_points(nondeg_out_x, nondeg_out_y, 1, "x", "y", BLACK_PT, 6)

add_points(deg_x, deg_y, 0, "x", "y", RED_PT, 6)

# boxes (drawn on overlay axes so they sit on top of the points)
box_specs = [
    (0, 1, "x2", "y4", "#606060"),
    (1, 0, "x2", "y4", "#000000"),
    (2, 1, "x", "y3", "#000000"),
    (3, 0, "x", "y3", "#FF0000"),
]
for i, pos, xa, ya, col in box_specs:
    fig.add_trace(go.Box(
        orientation="h", y=[pos],
        lowerfence=[box_lower[i]], q1=[box_q1[i]], median=[box_median[i]],
        q3=[box_q3[i]], upperfence=[box_upper[i]],
        width=0.75, whiskerwidth=0, boxpoints=False,
        fillcolor=BOX_FILL, line=dict(color=col, width=1.5),
        xaxis=xa, yaxis=ya, showlegend=False, hoverinfo="skip"))

common_x = dict(
    range=X_RANGE, tickvals=x_tick_vals, showgrid=True, gridcolor="white",
    gridwidth=1.6, zeroline=False, showline=False,
    minor=dict(tickvals=x_minor_vals, showgrid=True, gridcolor="#EEEEEE",
               gridwidth=1, ticks=""),
    fixedrange=True)

common_y = dict(
    tickvals=[0, 1], showticklabels=False, ticks="outside", ticklen=7,
    tickwidth=1, tickcolor="#555555", showgrid=True, gridcolor="white",
    gridwidth=1.6, zeroline=False, showline=False, fixedrange=True)

fig.update_layout(
    width=1179, height=905, autosize=False,
    margin=dict(l=285, r=252, t=8, b=132),
    paper_bgcolor="white", plot_bgcolor=PANEL_BG,
    font=dict(family=FONT, color="black"),
    showlegend=False,
    xaxis=dict(common_x, domain=[0, 1], anchor="y", ticks="outside",
               ticklen=6, tickwidth=1, tickcolor="#555555",
               tickfont=dict(size=32, family=FONT, color="#111111")),
    xaxis2=dict(common_x, domain=[0, 1], anchor="y2", matches="x",
                showticklabels=False, ticks=""),
    yaxis=dict(common_y, domain=BOT_DOMAIN, range=BOT_RANGE, anchor="x"),
    yaxis2=dict(common_y, domain=TOP_DOMAIN, range=TOP_RANGE, anchor="x2"),
    yaxis3=dict(overlaying="y", range=BOT_RANGE, visible=False,
                showgrid=False, zeroline=False, fixedrange=True, anchor="x"),
    yaxis4=dict(overlaying="y2", range=TOP_RANGE, visible=False,
                showgrid=False, zeroline=False, fixedrange=True, anchor="x2"),
)

LABEL_FONT = dict(size=37, family=FONT, color="black")
annotations = []
for lab, pos, shift in zip(top_labels, [1, 0], [-16, -10]):
    annotations.append(dict(text=lab, xref="paper", x=-0.0405, xanchor="right",
                            yref="y2", y=pos, yanchor="middle", yshift=shift,
                            align="right", showarrow=False, font=LABEL_FONT))
for lab, pos, shift in zip(bottom_labels, [1, 0], [-6, -1]):
    annotations.append(dict(text=lab, xref="paper", x=-0.0405, xanchor="right",
                            yref="y", y=pos, yanchor="middle", yshift=shift,
                            align="right", showarrow=False, font=LABEL_FONT))
annotations.append(dict(text="<i>P</i> = " + p_values[0], xref="paper", x=1.039,
                        xanchor="left", yref="paper", y=0.7216, yanchor="middle",
                        showarrow=False, font=dict(size=35, family=FONT, color="black")))
annotations.append(dict(text="<i>P</i> = " + p_values[1], xref="paper", x=1.0265,
                        xanchor="left", yref="paper", y=0.2458, yanchor="middle",
                        showarrow=False, font=dict(size=35, family=FONT, color="black")))
annotations.append(dict(text="Distance from the nearest deletion (kb)", xref="paper",
                        x=0.5, xanchor="center", yref="paper", y=-0.1425,
                        yanchor="middle", showarrow=False,
                        font=dict(size=37, family=FONT, color="black")))
fig.update_layout(annotations=annotations)

fig.write_html("out.html", config={"displayModeBar": False},
               post_script="document.body.style.margin='0';")
